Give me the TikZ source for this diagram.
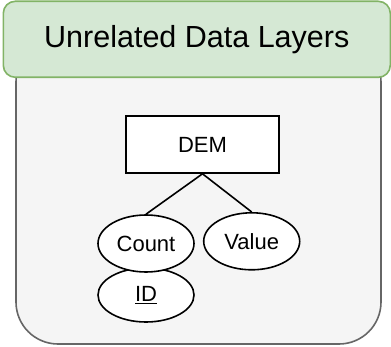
\documentclass[tikz,border=0pt]{standalone}
\usepackage{fontspec}
\setmainfont{Liberation Sans}
\usetikzlibrary{shapes.geometric}
\definecolor{hdrfill}{HTML}{D5E8D4}
\definecolor{hdrline}{HTML}{82B366}
\definecolor{boxfill}{HTML}{F5F5F5}
\definecolor{boxline}{HTML}{666666}

\begin{document}
\begin{tikzpicture}[x=1pt,y=-1pt,line width=1.6pt,
  entity/.style={rectangle,draw,fill=white,inner sep=0pt,minimum width=153pt,minimum height=57pt,font=\fontsize{22}{26}\selectfont},
  attr/.style={ellipse,draw,fill=white,inner sep=0pt,minimum width=96pt,minimum height=57pt,font=\fontsize{22}{26}\selectfont}]
\useasboundingbox (0,0) rectangle (391,347);

% container and its title
\draw[boxline,fill=boxfill,rounded corners=42pt] (16,40) rectangle (381,344);
\node[rectangle,draw=hdrline,fill=hdrfill,rounded corners=12pt,minimum width=387pt,minimum height=76pt,inner sep=0pt,font=\fontsize{30.5}{36}\selectfont] (title) at (196.8,39.3) {Unrelated Data Layers};

\node[entity] (dem) at (202.5,144.5) {DEM};
\node[attr,minimum height=54pt] (id) at (146,295) {\underline{ID}};
\node[attr] (count) at (146,243.5) {Count};
\node[attr] (value) at (251.7,241.3) {Value};

\draw (dem.south) -- (count.north);
\draw (dem.south) -- (value.north);
\end{tikzpicture}
\end{document}
